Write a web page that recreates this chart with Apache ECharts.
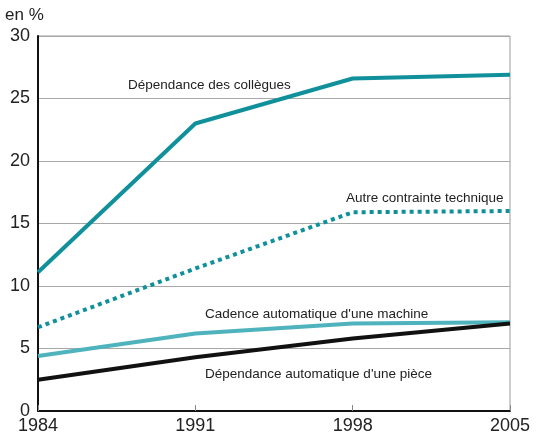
<!DOCTYPE html>
<html>
<head>
<meta charset="utf-8">
<script src="https://cdn.jsdelivr.net/npm/echarts@6/dist/echarts.min.js"></script>
<style>
html,body{margin:0;padding:0;background:#fff;}
#chart{width:538px;height:437px;}
</style>
</head>
<body>
<div id="chart"></div>
<script>
var years = ['1984', '1991', '1998', '2005'];
var collegues = [11.1, 23.0, 26.6, 26.9];
var autreContrainte = [6.7, 11.4, 15.9, 16.0];
var cadenceMachine = [4.4, 6.2, 7.0, 7.1];
var dependancePiece = [2.5, 4.3, 5.8, 7.0];

var FONT = '"Liberation Sans Narrow", "Liberation Sans", sans-serif';
var myChart = echarts.init(document.getElementById('chart'));

function lbl(x, y, text) {
	return {
		type: 'text', left: x, top: y,
		style: { text: text, font: '13.5px ' + FONT, fill: '#222' }
	};
}

var option = {
	animation: false,
	backgroundColor: '#fff',
	grid: {
		left: 38, right: 28, top: 36, bottom: 26,
		show: true, borderColor: '#9a9a9a', borderWidth: 1
	},
	xAxis: {
		type: 'category',
		data: years,
		boundaryGap: false,
		axisLine: { lineStyle: { color: '#111', width: 2 } },
		axisTick: { inside: true, length: 6, lineStyle: { color: '#888' } },
		axisLabel: { color: '#222', fontSize: 18, fontFamily: FONT, margin: 6 }
	},
	yAxis: {
		type: 'value',
		min: 0, max: 30, interval: 5,
		axisLine: { show: true, lineStyle: { color: '#111', width: 2 } },
		axisTick: { show: false },
		axisLabel: { color: '#222', fontSize: 18, fontFamily: FONT, margin: 8 },
		splitLine: { lineStyle: { color: '#a8a8a8', width: 1 } }
	},
	series: [
		{
			name: 'Dépendance des collègues', type: 'line', data: collegues,
			symbol: 'none', lineStyle: { color: '#10909a', width: 4 }
		},
		{
			name: 'Autre contrainte technique', type: 'line', data: autreContrainte,
			symbol: 'none', lineStyle: { color: '#10909a', width: 4, type: [4, 4] }
		},
		{
			name: "Cadence automatique d'une machine", type: 'line', data: cadenceMachine,
			symbol: 'none', lineStyle: { color: '#4fb3bd', width: 4 }
		},
		{
			name: "Dépendance automatique d'une pièce", type: 'line', data: dependancePiece,
			symbol: 'none', lineStyle: { color: '#111', width: 4 }
		}
	],
	graphic: [
		{ type: 'text', left: 5, top: 7, style: { text: 'en %', font: '17px ' + FONT, fill: '#222' } },
		lbl(128, 78, 'Dépendance des collègues'),
		lbl(346, 191, 'Autre contrainte technique'),
		lbl(205, 307, "Cadence automatique d'une machine"),
		lbl(205, 367, "Dépendance automatique d'une pièce")
	]
};
myChart.setOption(option);
</script>
</body>
</html>
